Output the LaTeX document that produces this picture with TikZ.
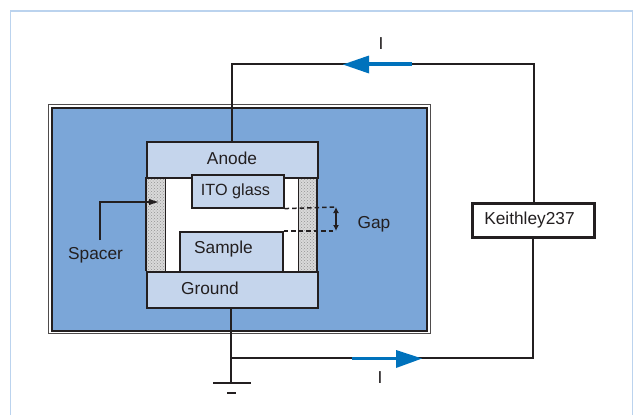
\documentclass[tikz,border=0pt]{standalone}
\usepackage{fontspec}
\setmainfont{Liberation Sans}
\usetikzlibrary{patterns,arrows.meta}
\definecolor{ink}{HTML}{231F20}
\definecolor{midblue}{HTML}{7BA6D8}
\definecolor{paleblue}{HTML}{C5D5EC}
\definecolor{framecol}{HTML}{BBD3EE}
\definecolor{arrowblue}{HTML}{0072BC}
\tikzset{
  lbl/.style={font=\fontsize{17.3}{19}\selectfont,text=ink,inner sep=0pt},
  part/.style={draw=ink,line width=1.6pt,fill=paleblue,inner sep=0pt,anchor=north west},
  wire/.style={draw=ink,line width=2.9pt},
  spacerbar/.style={draw=none,inner sep=0pt,anchor=north west,fill=gray!30,postaction={pattern=crosshatch dots,pattern color=gray!85}},
  gapdash/.style={draw=ink,line width=1.5pt,dash pattern=on 4.5pt off 3pt},
  flowline/.style={draw=arrowblue,line width=3.4pt},
  flowhead/.style={fill=arrowblue,draw=none}
}
\begin{document}
\begin{tikzpicture}[x=1pt,y=-1pt]
\useasboundingbox (0,0) rectangle (636,415);
\fill[white] (0,0) rectangle (636,415);
% page frame
\draw[framecol,line width=1.6pt] (10.5,415) -- (10.5,11) -- (632.5,11) -- (632.5,415);
% enclosure
\draw[ink!80,line width=1pt] (48.5,104.5) rectangle (430.5,333.5);
\draw[ink,line width=2.2pt,fill=midblue] (52,108) rectangle (427,331);
% interior
\fill[white] (147,177) rectangle (317,271);
\node[spacerbar,minimum width=18pt,minimum height=94pt] (spl) at (147,177) {};
\node[spacerbar,minimum width=19pt,minimum height=94pt] (spr) at (298,177) {};
\draw[ink,line width=1pt] (165,177) -- (165,271) (298,177) -- (298,271);
\draw[ink,line width=1.6pt] (146,177) -- (146,271) (317,177) -- (317,271);
% plates
\node[part,minimum width=171pt,minimum height=36pt] (anode) at (146,141) {};
\node[part,minimum width=171pt,minimum height=36pt] (ground) at (146,271) {};
\node[part,minimum width=92pt,minimum height=33pt] (ito) at (191,174) {};
\node[part,minimum width=103pt,minimum height=40pt] (sample) at (179,231) {};
\node[lbl] at (232,158) {Anode};
\node[lbl] at (210,288) {Ground};
\node[lbl,font=\fontsize{16.2}{19}\selectfont] at (235.5,191.5) {ITO glass};
\node[lbl] at (223.5,249.5) {Sample};
% gap
\coordinate (gt) at (336,207);
\coordinate (gb) at (336,231);
\draw[gapdash] (ito.south east) -- (gt);
\draw[gapdash] (sample.north east) -- (gb);
\draw[ink,line width=1.5pt,{Latex[length=6pt,width=6pt]}-{Latex[length=6pt,width=6pt]}] (gt) -- (gb);
\node[lbl] (gaplabel) at (374,224) {Gap};
% spacer label
\node[lbl] (spacerlabel) at (95.5,255) {Spacer};
\coordinate (sc) at (100,202);
\coordinate (st) at (159,202);
\coordinate (sb) at (100,240);
\draw[ink,line width=1.1pt,-{Latex[length=10pt,width=6.5pt]}] (sb) -- (sc) -- (st);
% circuit
\node[draw=ink,line width=2.4pt,fill=white,minimum width=122pt,minimum height=34pt,inner sep=0pt] (keithley) at (533.5,220.5) {};
\node[lbl] at (529.5,220.5) {Keithley237};
\coordinate (tl) at (232,64);
\coordinate (tr) at (534,64);
\coordinate (bl) at (231,358);
\coordinate (br) at (533,358);
\coordinate (gnd) at (231,383);
\draw[wire] (anode.north -| tl) -- (tl) -- (tr) -- (tr |- keithley.north);
\draw[wire] (keithley.south -| br) -- (br) -- (bl);
\draw[wire] (ground.south -| bl) -- (gnd);
\draw[wire] (213,383) -- (251,383);
\draw[ink,line width=2.8pt] (227,393) -- (236,393);
% current arrows
\draw[flowline] (412,64) -- (368,64);
\fill[flowhead] (343,64.5) -- (369,55.5) -- (369,73.5) -- cycle;
\draw[flowline] (352,358.5) -- (397,358.5);
\fill[flowhead] (422,358.5) -- (396,350) -- (396,368) -- cycle;
\node[lbl] (itop) at (381,44) {I};
\node[lbl] (ibot) at (380,378) {I};
\end{tikzpicture}
\end{document}
